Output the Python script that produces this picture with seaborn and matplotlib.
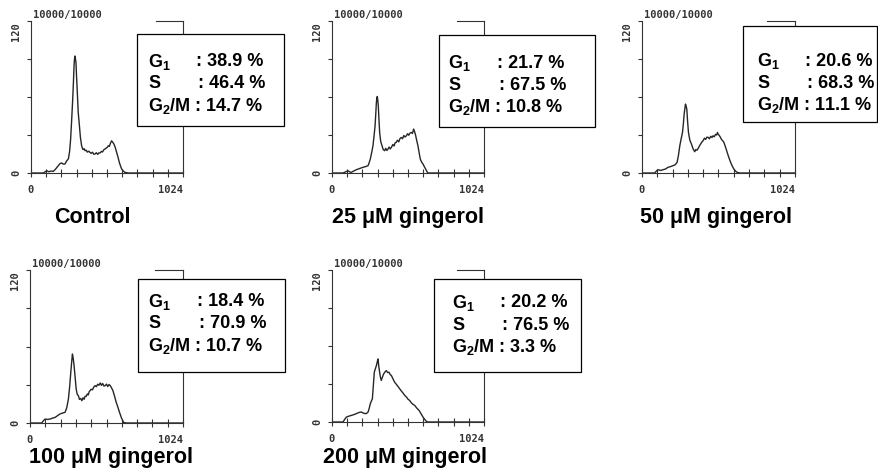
import numpy as np
import pandas as pd
import matplotlib
matplotlib.use("Agg")
import matplotlib.pyplot as plt
import matplotlib.patches as mpatches
import seaborn as sns

# ==========================================
# Data (channel, count)
# ==========================================
control = [(0, 0), (83, 0), (96, 1.0), (106, 1.8), (120, 1.0), (135, 1.5), (150, 1.3), (165, 3.0),
           (184, 5.8), (196, 7.5), (207, 7.9), (218, 7.0), (229, 7.1), (240, 9.5), (252, 11.2),
           (260, 17), (267, 26.8), (274, 42), (281, 58.3), (286, 72), (290, 84.6), (293, 90),
           (296, 92.4), (299, 90.5), (303, 87.2), (307, 76), (312, 63.7), (318, 48), (326, 37.5),
           (333, 28), (341, 21.5), (350, 18.5), (358, 19.2), (364, 17.6), (372, 18.0), (380, 16.5),
           (389, 17.2), (397, 16.3), (405, 15.5), (414, 16.4), (423, 14.8), (431, 15.0), (440, 16.0),
           (449, 14.7), (457, 15.9), (465, 15.8), (474, 17.0), (482, 16.6), (490, 18.3), (498, 18.9),
           (506, 19.6), (514, 20.3), (521, 21.5), (528, 21.0), (535, 23.5), (543, 25.4), (551, 24.2),
           (559, 22.8), (568, 20.0), (577, 16.3), (586, 12.5), (595, 8.4), (603, 5.5), (611, 3.1),
           (622, 1.5), (633, 0.5), (645, 0.2), (656, 0), (1024, 0)]

ging_25 = [(0, 0), (74, 0), (90, 0.8), (108, 1.8), (120, 0.8), (130, 0.5), (145, 1.5), (164, 2.6),
           (185, 3.5), (209, 4.5), (225, 5.0), (243, 5.8), (250, 8), (258, 11), (267, 16), (276, 21.5),
           (283, 29), (290, 37), (295, 47), (299, 55.7), (302, 59), (305, 60.4), (308, 58), (312, 53),
           (316, 43), (321, 32), (328, 25), (337, 21.5), (345, 18.5), (355, 17.6), (362, 19.5),
           (370, 17.8), (377, 18.9), (385, 20.5), (392, 19.0), (400, 20.2), (410, 22.5), (418, 21.3),
           (425, 23.8), (433, 24.2), (441, 25.9), (450, 24.6), (458, 27.2), (467, 28.1), (475, 27.0),
           (484, 29.6), (492, 28.4), (501, 29.4), (509, 31.0), (517, 29.8), (525, 31.5), (534, 32),
           (542, 31.2), (550, 34.7), (557, 32.5), (564, 29.4), (571, 25.5), (579, 21.5), (587, 16),
           (595, 11), (604, 8.5), (613, 7.1), (622, 5), (631, 3.1), (640, 1), (647, 0), (1024, 0)]

ging_50 = [(0, 0), (85, 0), (96, 1.5), (107, 2.6), (125, 2.0), (141, 2.6), (158, 3.2), (174, 4.5),
           (190, 5.0), (208, 5.8), (222, 6.5), (235, 8.4), (244, 14), (253, 21.5), (262, 27), (271, 32),
           (277, 39), (282, 46.5), (287, 51), (291, 54.4), (295, 53), (300, 50.4), (305, 41), (311, 32),
           (320, 26), (331, 22.8), (342, 19), (353, 16.8), (360, 18.5), (368, 18), (376, 19.4),
           (385, 21.5), (393, 23.0), (401, 24.5), (409, 25.5), (418, 27.5), (426, 26.5), (434, 28.3),
           (443, 28.1), (451, 27.0), (460, 29.0), (468, 28.0), (476, 29.4), (484, 28.6), (492, 30.5),
           (500, 30.0), (505, 32), (511, 30.5), (518, 29.5), (525, 28.1), (532, 26.5), (540, 25.5),
           (548, 24.2), (556, 21.5), (563, 19.0), (570, 16.3), (582, 12), (593, 8.4), (604, 5.5),
           (615, 3.1), (626, 1.5), (637, 0.5), (655, 0), (1024, 0)]

ging_100 = [(0, 0), (78, 0), (90, 1.8), (101, 3.1), (118, 2.8), (134, 3.1), (150, 3.8), (168, 4.4),
            (185, 5.8), (201, 7.1), (218, 7.8), (235, 8.4), (246, 12), (257, 18.8), (265, 28), (273, 39.7),
            (279, 48), (284, 54.1), (289, 51), (295, 45), (302, 36), (309, 26.7), (316, 22.5), (324, 21.4),
            (331, 18.5), (339, 19.3), (347, 17.5), (355, 19.8), (362, 18.6), (369, 21.0), (376, 20.9),
            (384, 22.8), (390, 22.0), (396, 24.5), (402, 25.4), (410, 26.5), (418, 26.0), (427, 28.2),
            (436, 29.3), (444, 28.5), (453, 30.4), (461, 29.6), (470, 31.4), (478, 29.5), (486, 31.0),
            (495, 29.0), (503, 29.3), (512, 30.5), (520, 28.6), (529, 30.2), (537, 29.3), (546, 27.5),
            (555, 25.4), (566, 21), (577, 16.2), (588, 12.5), (599, 8.4), (612, 4), (626, 0.5),
            (644, 0), (1024, 0)]

ging_200 = [(0, 0), (74, 0), (85, 2.0), (97, 3.9), (113, 4.6), (130, 5.2), (147, 5.8), (164, 6.6),
            (181, 7.5), (198, 7.9), (215, 6.8), (231, 6.6), (243, 7.9), (250, 10.5), (258, 14.4),
            (265, 16.5), (272, 18.3), (278, 28), (285, 39.3), (292, 42), (299, 44.5), (305, 47.5),
            (310, 49.8), (315, 44), (321, 39.3), (326, 35.5), (332, 32.8), (340, 35.5), (348, 38),
            (357, 39.5), (366, 40.6), (375, 39.0), (384, 39.3), (392, 37.5), (400, 36.7), (411, 34.0),
            (422, 31.4), (433, 29.8), (445, 28.0), (456, 26.2), (467, 24.5), (479, 22.8), (490, 21),
            (501, 19.8), (512, 18.0), (523, 17), (534, 15.2), (545, 14.0), (557, 13.1), (571, 11.0),
            (586, 9.2), (600, 6.5), (613, 3.9), (625, 2.0), (636, 0.5), (647, 0), (1024, 0)]

titles = ["Control", "25 \u03bcM gingerol", "50 \u03bcM gingerol", "100 \u03bcM gingerol", "200 \u03bcM gingerol"]
g1_pct = ["38.9", "21.7", "20.6", "18.4", "20.2"]
s_pct = ["46.4", "67.5", "68.3", "70.9", "76.5"]
g2m_pct = ["14.7", "10.8", "11.1", "10.7", "3.3"]
event_label = "10000/10000"

# ==========================================
# Layout in pixels of the 879x477 canvas
# ==========================================
W, H = 879, 477
axes_px = [(31, 22, 183, 174), (332, 22, 484, 174), (642, 22, 795, 174),
           (30, 271, 183, 424), (332, 271, 484, 423)]
box_px = [(137, 35, 284, 127), (439, 36, 595, 128), (743, 27, 877, 123),
          (138, 280, 285, 373), (434, 280, 581, 373)]
text_px = [(148, 196, 62), (448, 497, 63), (757, 805, 61), (148, 197, 302), (452, 500, 303)]
title_px = [(54, 223), (332, 223), (640, 223), (29, 463), (323, 463)]


def fx(x):
    return x / W


def fy(y):
    return 1 - y / H


sns.set_style("white")
plt.rcParams["font.family"] = ["Liberation Sans", "DejaVu Sans"]
plt.rcParams["text.color"] = "black"
plt.rcParams["mathtext.fontset"] = "custom"
plt.rcParams["mathtext.bf"] = "Liberation Sans:bold"
plt.rcParams["mathtext.rm"] = "Liberation Sans:bold"

fig = plt.figure(figsize=(W / 100, H / 100), dpi=100)
mono = dict(family="DejaVu Sans Mono", fontweight="bold", fontsize=7.5, color="#333333")

series = [control, ging_25, ging_50, ging_100, ging_200]
for i, data in enumerate(series):
    l, t, r, b = axes_px[i]
    ax = fig.add_axes([fx(l), fy(b), (r - l) / W, (b - t) / H])
    df = pd.DataFrame(data, columns=["channel", "count"])
    sns.lineplot(data=df, x="channel", y="count", ax=ax, color="#262626", lw=1.0)
    ax.set_xlim(0, 1024)
    ax.set_ylim(0, 120)
    ax.set_xlabel("")
    ax.set_ylabel("")
    ax.set_xticks(np.linspace(0, 1024, 11))
    ax.set_xticklabels(["0"] + [""] * 9 + ["1024"], **mono)
    ax.set_yticks([0, 30, 60, 90, 120])
    ax.set_yticklabels(["0", "", "", "", "120"], rotation=90, **mono)
    ax.get_xticklabels()[-1].set_ha("right")
    ax.get_yticklabels()[-1].set_va("top")
    ax.tick_params(axis="x", bottom=True, direction="inout", length=6, width=0.8,
                   color="#333333", pad=5)
    ax.tick_params(axis="y", left=True, direction="out", length=3, width=0.8,
                   color="#333333", pad=4)
    for side in ["left", "right", "bottom", "top"]:
        ax.spines[side].set_color("#333333")
        ax.spines[side].set_linewidth(0.8)
    ax.spines["top"].set_bounds(0.82 * 1024, 1024)
    ax.text(0.01, 1.01, event_label, transform=ax.transAxes, ha="left", va="bottom", **mono)

    # percentage box
    x0, y0, x1, y1 = box_px[i]
    fig.add_artist(mpatches.Rectangle((fx(x0), fy(y1)), (x1 - x0) / W, (y1 - y0) / H,
                                      transform=fig.transFigure, fc="white", ec="black",
                                      lw=0.9, zorder=5))
    lx, cx, ry = text_px[i]
    style = dict(fontsize=13, fontweight="bold", va="center", ha="left", color="black", zorder=6)
    fig.text(fx(lx), fy(ry), r"G$_\mathbf{1}$", **style)
    fig.text(fx(cx), fy(ry), f": {g1_pct[i]} %", **style)
    fig.text(fx(lx), fy(ry + 22), "S", **style)
    fig.text(fx(cx + 2), fy(ry + 22), f": {s_pct[i]} %", **style)
    fig.text(fx(lx), fy(ry + 44), r"G$_\mathbf{2}$/M : " + f"{g2m_pct[i]} %", **style)

    tx, ty = title_px[i]
    fig.text(fx(tx), fy(ty), titles[i], fontsize=15.5, fontweight="bold", color="black",
             ha="left", va="baseline")

fig.savefig("out.png", dpi=100)
